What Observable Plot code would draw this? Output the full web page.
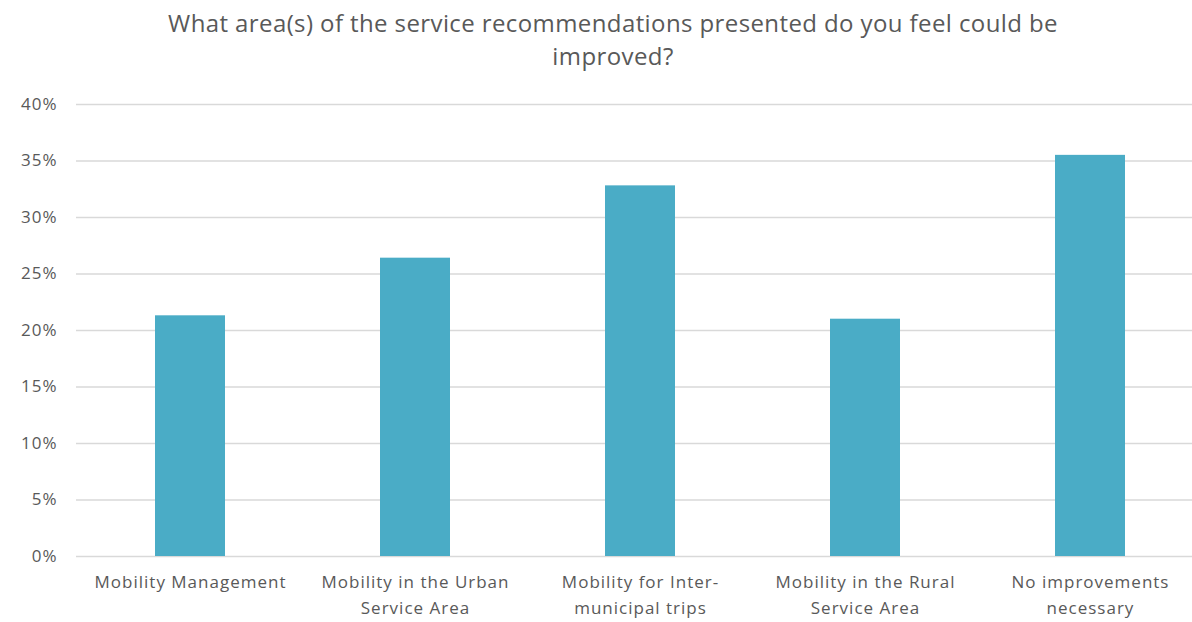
<!DOCTYPE html>
<html>
<head>
<meta charset="utf-8">
<script src="https://cdn.jsdelivr.net/npm/d3@7"></script>
<script src="https://cdn.jsdelivr.net/npm/@observablehq/plot@0.6"></script>
<style>
  html, body { margin: 0; padding: 0; background: #fff; }
  #wrap { width: 1192px; height: 622px; overflow: hidden; position: relative; }
  #title { height: 80px; box-sizing: border-box; padding-top: 6px; padding-left: 34px; text-align: center;
           font-family: "Open Sans", Lato, sans-serif; font-size: 24px; letter-spacing: 0.4px;
           line-height: 33px; color: #595959; }
  #title span { display: block; }
  svg { display: block; }
  #chart svg text { letter-spacing: 1px; }
</style>
</head>
<body>
<div id="wrap">
  <div id="title"><span>What area(s) of the service recommendations presented do you feel could be</span><span>improved?</span></div>
  <div id="chart"></div>
</div>
<script>
const categories = [
  "Mobility Management",
  "Mobility in the Urban Service Area",
  "Mobility for Inter-municipal trips",
  "Mobility in the Rural Service Area",
  "No improvements necessary"
];
const tickLabels = [
  "Mobility Management",
  "Mobility in the Urban\nService Area",
  "Mobility for Inter-\nmunicipal trips",
  "Mobility in the Rural\nService Area",
  "No improvements\nnecessary"
];
const values = [0.213, 0.264, 0.328, 0.210, 0.355];
const yTicks = [0, 0.05, 0.10, 0.15, 0.20, 0.25, 0.30, 0.35, 0.40];

const data = categories.map((c, i) => ({category: c, value: values[i]}));
const labelOf = new Map(categories.map((c, i) => [c, tickLabels[i]]));

const chart = Plot.plot({
  width: 1192,
  height: 542,
  marginLeft: 76,
  marginRight: 0,
  marginTop: 24,
  marginBottom: 66,
  style: {fontFamily: "'Open Sans', Lato, sans-serif", background: "#fff"},
  x: {domain: categories, range: [76, 1204], paddingInner: 0.69, paddingOuter: 0.345, label: null},
  y: {domain: [0, 0.40], label: null},
  marks: [
    Plot.ruleY(yTicks, {stroke: "#d9d9d9", strokeWidth: 1.5}),
    Plot.barY(data, {x: "category", y: "value", fill: "#4aacc6"}),
    Plot.axisY({ticks: yTicks, tickSize: 0, tickPadding: 19, tickFormat: d => Math.round(d * 100) + "%",
      fontSize: 17, color: "#595959", label: null}),
    Plot.axisX({tickSize: 0, tickPadding: 13, tickFormat: d => labelOf.get(d), fontSize: 17,
      lineHeight: 1.53, color: "#595959", label: null})
  ]
});
document.getElementById("chart").appendChild(chart);
</script>
</body>
</html>
